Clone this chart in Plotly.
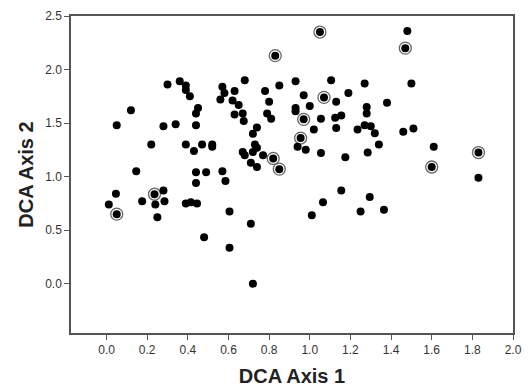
import plotly.graph_objects as go

# Regular sample points (DCA axis 1, DCA axis 2)
x_pts = [0.30, 0.36, 0.39, 0.39, 0.41, 0.45, 0.44, 0.12, 0.05, 0.28, 0.34, 0.44,
         0.22, 0.39, 0.43, 0.47, 0.52, 0.52, 0.57, 0.58, 0.56, 0.63, 0.68, 0.62,
         0.65, 0.63, 0.67, 0.675, 0.74, 0.72, 0.73, 0.74, 0.67, 0.68, 0.72, 0.77,
         0.71, 0.74, 0.78, 0.85, 0.80, 0.79, 0.81, 0.93, 0.93, 0.93, 1.48, 1.105,
         1.27, 1.50, 0.97, 1.19, 1.13, 1.38, 1.00, 1.28, 1.28, 1.055, 1.125, 1.155,
         1.02, 1.13, 1.235, 1.27, 1.30, 1.32, 1.46, 1.51, 1.34, 1.61, 0.94, 0.98,
         1.055, 1.175, 1.285, 1.83, 1.155, 1.065, 1.01, 1.295, 1.25, 1.365, 0.146, 0.44,
         0.49, 0.57, 0.44, 0.585, 0.046, 0.011, 0.175, 0.28, 0.24, 0.285, 0.25, 0.39,
         0.415, 0.445, 0.605, 0.48, 0.605, 0.71, 0.72]
y_pts = [1.86, 1.89, 1.85, 1.81, 1.75, 1.64, 1.59, 1.62, 1.48, 1.47, 1.49, 1.48,
         1.30, 1.30, 1.24, 1.30, 1.30, 1.28, 1.84, 1.78, 1.72, 1.80, 1.90, 1.71,
         1.67, 1.58, 1.59, 1.52, 1.46, 1.40, 1.30, 1.27, 1.23, 1.20, 1.23, 1.20,
         1.13, 1.09, 1.80, 1.85, 1.70, 1.59, 1.54, 1.89, 1.64, 1.61, 2.36, 1.90,
         1.87, 1.87, 1.76, 1.78, 1.70, 1.69, 1.66, 1.65, 1.59, 1.54, 1.55, 1.57,
         1.44, 1.455, 1.44, 1.48, 1.47, 1.405, 1.42, 1.45, 1.30, 1.28, 1.28, 1.25,
         1.22, 1.18, 1.225, 0.99, 0.87, 0.76, 0.64, 0.81, 0.675, 0.69, 1.05, 1.04,
         1.04, 1.05, 0.94, 0.96, 0.84, 0.74, 0.77, 0.87, 0.74, 0.77, 0.62, 0.75,
         0.76, 0.75, 0.675, 0.435, 0.335, 0.56, 0.0]

# Highlighted (ringed) points
x_ring = [0.83, 1.05, 1.47, 1.07, 0.97, 0.955, 0.82, 0.85, 1.60, 1.83, 0.05, 0.236]
y_ring = [2.13, 2.35, 2.20, 1.74, 1.535, 1.36, 1.17, 1.07, 1.09, 1.225, 0.65, 0.836]

x_ticks = [0.0, 0.2, 0.4, 0.6, 0.8, 1.0, 1.2, 1.4, 1.6, 1.8, 2.0]
y_ticks = [0.0, 0.5, 1.0, 1.5, 2.0, 2.5]

FONT = "Liberation Sans, Arial, sans-serif"
AX = "#555555"

fig = go.Figure()
fig.add_trace(go.Scatter(x=x_ring, y=y_ring, mode="markers",
                         marker=dict(symbol="circle-open", size=12, color="#666666",
                                     line=dict(color="#666666", width=1.3)),
                         hoverinfo="skip", showlegend=False))
fig.add_trace(go.Scatter(x=x_pts + x_ring, y=y_pts + y_ring, mode="markers",
                         marker=dict(symbol="circle", size=8, color="black",
                                     line=dict(width=0)),
                         showlegend=False))

fig.update_layout(
    width=532, height=391,
    margin=dict(l=71, r=19, t=16, b=58),
    paper_bgcolor="white", plot_bgcolor="white",
    font=dict(family=FONT, color="#333333", size=12),
)
fig.update_xaxes(
    range=[-0.175, 2.0], tickvals=x_ticks, tickformat=".1f",
    showgrid=False, zeroline=False, automargin=False,
    showline=True, linecolor=AX, linewidth=1.5, mirror=True,
    ticks="outside", ticklen=5, tickcolor=AX, tickwidth=1,
    tickfont=dict(size=12, color="#333333"),
    title=dict(text="<b>DCA Axis 1</b>", font=dict(size=20, color="#222222"), standoff=13),
)
fig.update_yaxes(
    range=[-0.46, 2.5], tickvals=y_ticks, tickformat=".1f",
    showgrid=False, zeroline=False, automargin=False,
    showline=True, linecolor=AX, linewidth=1.5, mirror=True,
    ticks="outside", ticklen=5, tickcolor=AX, tickwidth=1,
    tickfont=dict(size=12, color="#333333"),
    title=dict(text="<b>DCA Axis 2</b>", font=dict(size=20, color="#222222"), standoff=6),
)

fig.write_html("out.html", config={"displayModeBar": False},
               post_script="document.body.style.margin='0';")
